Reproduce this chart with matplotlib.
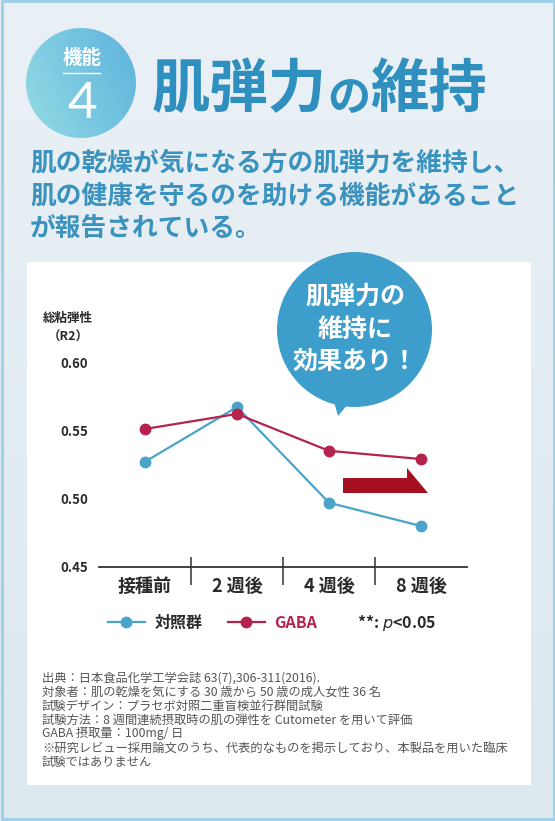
import numpy as np
import matplotlib
matplotlib.use('Agg')
import matplotlib.pyplot as plt
from matplotlib.patches import Circle, Rectangle, Polygon
from matplotlib.lines import Line2D
from matplotlib.colors import LinearSegmentedColormap

plt.rcParams['font.family'] = ['Noto Sans CJK JP', 'DejaVu Sans']

# data
weeks = ['接種前', '2 週後', '4 週後', '8 週後']
control = [0.527, 0.567, 0.497, 0.480]
gaba = [0.551, 0.562, 0.535, 0.529]
yticks = [0.45, 0.50, 0.55, 0.60]
series_names = ['対照群', 'GABA']

title_parts = ['肌弾力', 'の', '維持']
lead_lines = [
    '肌の乾燥が気になる方の肌弾力を維持し、',
    '肌の健康を守るのを助ける機能があること',
    'が報告されている。',
]
bubble_lines = ['肌弾力の', '維持に', '効果あり！']
notes = [
    '出典：日本食品化学工学会誌 63(7),306-311(2016).',
    '対象者：肌の乾燥を気にする 30 歳から 50 歳の成人女性 36 名',
    '試験デザイン：プラセボ対照二重盲検並行群間試験',
    '試験方法：8 週間連続摂取時の肌の弾性を Cutometer を用いて評価',
    'GABA 摂取量：100mg/ 日',
    '※研究レビュー採用論文のうち、代表的なものを掲示しており、本製品を用いた臨床',
    '試験ではありません',
]

blue = '#4ba3c8'
red = '#b5224c'
title_col = '#2f8fbf'
dark = '#2a2a2a'

W, H = 555, 821
fig = plt.figure(figsize=(W / 100, H / 100), dpi=100)

# background layer in pixel coords
bg = fig.add_axes([0, 0, 1, 1], zorder=0)
bg.axis('off')
grad = np.linspace(0, 1, 256).reshape(-1, 1)
bg.imshow(grad, cmap=LinearSegmentedColormap.from_list('bg', ['#eaf1f6', '#dde8ef']),
          extent=[0, W, H, 0], aspect='auto', zorder=0)
bg.add_patch(Rectangle((1.5, 1.5), W - 3, H - 3, fill=False, ec='#9fd2ea', lw=2.2, zorder=1))
bg.add_patch(Rectangle((27, 262), 504, 523, fc='white', ec='none', zorder=1))

# badge
badge = Circle((81, 83), 55, transform=bg.transData)
xx, yy = np.meshgrid(np.linspace(0, 1, 64), np.linspace(0, 1, 64))
im = bg.imshow(0.7 * xx + 0.3 * (1 - yy),
               cmap=LinearSegmentedColormap.from_list('bd', ['#92dbe5', '#5fb3dc']),
               extent=[26, 136, 138, 28], aspect='auto', zorder=2)
im.set_clip_path(badge)
bg.text(82, 58, '機能', color='white', fontsize=14, weight='bold', ha='center', va='center', zorder=3)
bg.plot([63, 100], [73, 73], color='white', lw=1, zorder=3)
bg.text(82, 104, '4', family=['Lato', 'DejaVu Sans'], weight='normal', fontsize=37,
        color='white', ha='center', va='center', zorder=3)

# title and lead text
bg.text(152, 90, title_parts[0], fontsize=42, color=title_col, weight='bold', ha='left', va='center', zorder=3)
bg.text(349, 98, title_parts[1], fontsize=31, color=title_col, weight='bold', ha='center', va='center', zorder=3)
bg.text(487, 90, title_parts[2], fontsize=42, color=title_col, weight='bold', ha='right', va='center', zorder=3)
for i, line in enumerate(lead_lines):
    bg.text(30, 163 + i * 33, line, fontsize=18.5, color='#3a92bf', weight='bold',
            ha='left', va='center', zorder=3)

# y axis title
bg.text(68, 318, '総粘弾性', fontsize=9, weight='bold', color=dark, ha='center', va='center', zorder=3)
bg.text(68, 337, '（R2）', fontsize=9, weight='bold', color=dark, ha='center', va='center', zorder=3)

for i, line in enumerate(notes):
    bg.text(42, 678 + i * 14, line, fontsize=8.8, color='#555555', ha='left', va='center', zorder=3)

bg.set_xlim(0, W)
bg.set_ylim(H, 0)

# chart
ax = fig.add_axes([99 / W, 1 - 567 / H, 368 / W, 205 / H], zorder=1)
ax.patch.set_alpha(0)
x = np.arange(len(weeks))
ax.plot(x, control, color=blue, lw=1.6, marker='o', ms=7.5, zorder=3, clip_on=False)
ax.plot(x, gaba, color=red, lw=1.6, marker='o', ms=7.5, zorder=4, clip_on=False)
ax.set_xlim(-0.5, 3.5)
ax.set_ylim(yticks[0], yticks[-1])
for s in ['left', 'top', 'right']:
    ax.spines[s].set_visible(False)
ax.spines['bottom'].set_color('#333333')
ax.spines['bottom'].set_linewidth(1.3)
ax.set_yticks(yticks)
ax.set_yticklabels([f'{v:.2f}' for v in yticks], fontsize=9.5, weight='bold', color=dark)
ax.tick_params(axis='y', length=0, pad=8)
ax.set_xticks(x)
ax.set_xticklabels(weeks, fontsize=13, weight='bold', color=dark)
ax.tick_params(axis='x', length=0, pad=7)
px = (yticks[-1] - yticks[0]) / 205
ax.vlines(x[:-1] + 0.5, yticks[0] - 18 * px, yticks[0] + 10 * px, color='#333333', lw=1.1, clip_on=False)

# foreground layer: bubble, arrow, legend note
fg = fig.add_axes([0, 0, 1, 1], zorder=2)
fg.axis('off')
fg.patch.set_alpha(0)
fg.set_xlim(0, W)
fg.set_ylim(H, 0)
bubble_col = '#3d9dcb'
fg.add_patch(Circle((354.5, 329.5), 77.5, fc=bubble_col, ec='none'))
fg.add_patch(Polygon([(333, 398), (353, 398), (338, 416)], closed=True, fc=bubble_col, ec='none'))
for i, line in enumerate(bubble_lines):
    fg.text(355, 297 + i * 32.5, line, fontsize=18, weight='bold', color='white', ha='center', va='center')
fg.add_patch(Polygon([(343, 478), (407, 478), (407, 468), (428, 493), (343, 493)],
                     closed=True, fc='#a50f1f', ec='none'))

handles = [Line2D([], [], color=blue, marker='o', lw=1.6, ms=7.5),
           Line2D([], [], color=red, marker='o', lw=1.6, ms=7.5)]
leg = fig.legend(handles, series_names, loc='center left', bbox_to_anchor=(108 / W, 1 - 623 / H),
                 ncol=2, frameon=False, prop=dict(weight='bold', size=11.5),
                 handlelength=2.3, handletextpad=0.6, columnspacing=1.6,
                 borderpad=0, borderaxespad=0)
leg.get_texts()[0].set_color(dark)
leg.get_texts()[1].set_color(red)
fg.text(357, 623, '**: $p$<0.05', fontsize=11.5, weight='bold', color=dark, ha='left', va='center')

fig.savefig('out.png', dpi=100)
